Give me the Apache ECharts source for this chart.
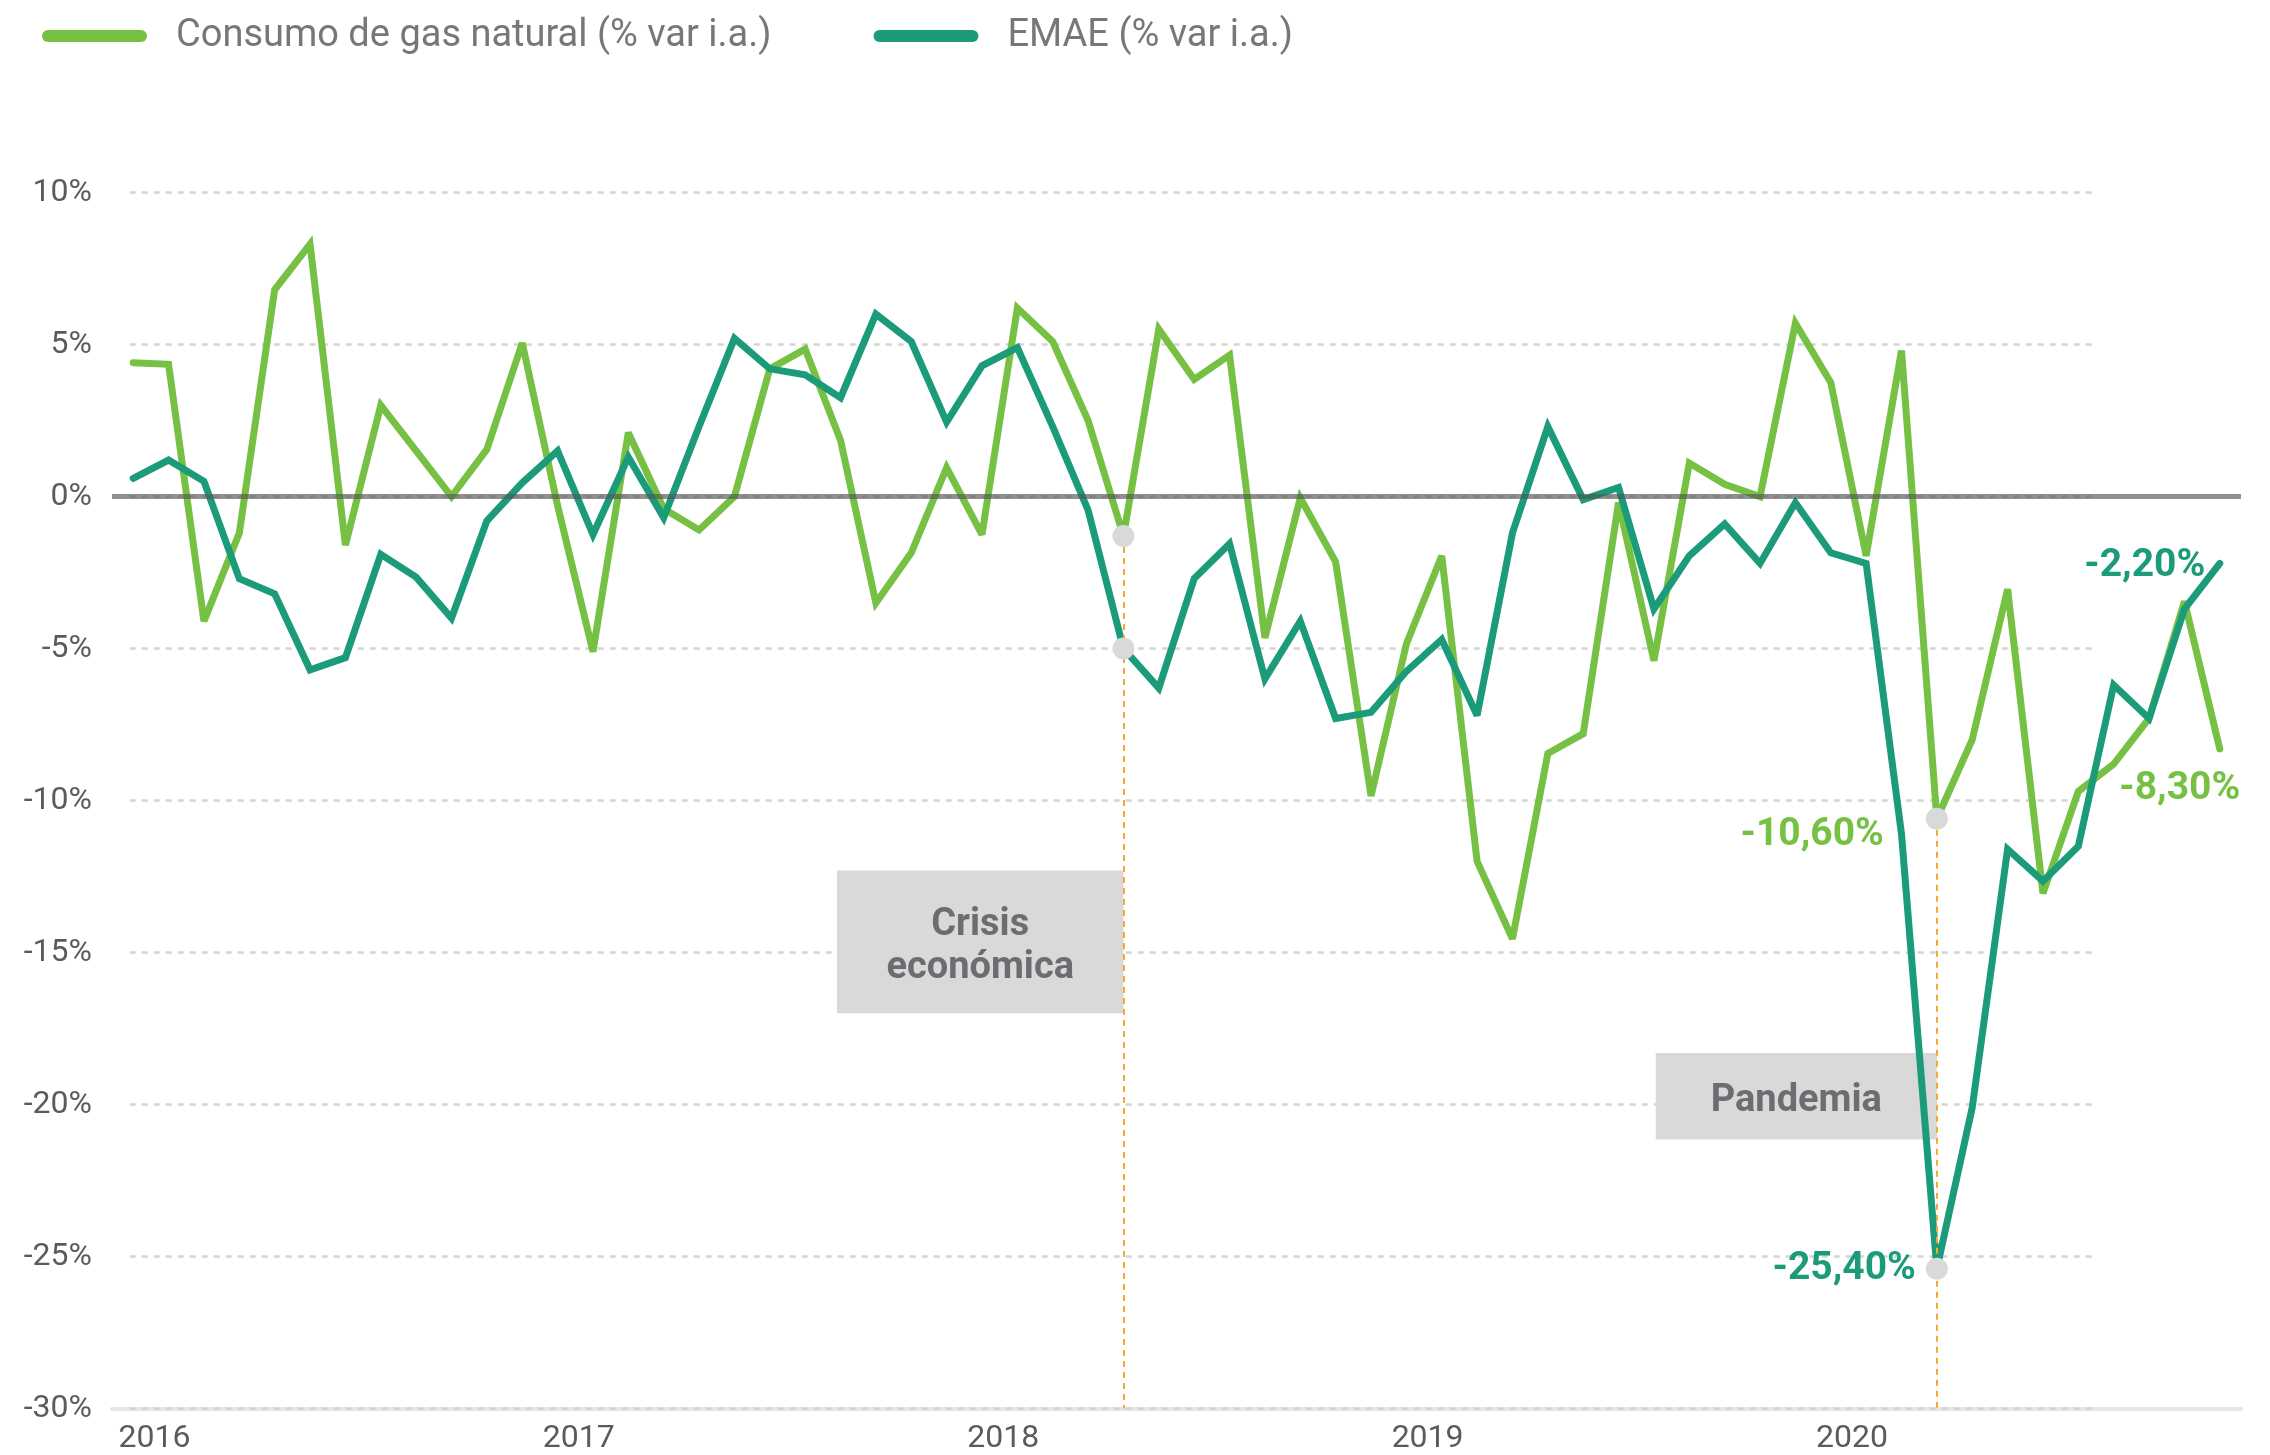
<!DOCTYPE html>
<html>
<head>
<meta charset="utf-8">
<title>Consumo de gas natural y EMAE</title>
<script src="https://cdn.jsdelivr.net/npm/echarts@6/dist/echarts.min.js"></script>
<style>
  html, body { margin: 0; padding: 0; background: #fff; }
  #chart { width: 2270px; height: 1455px; }
</style>
</head>
<body>
<div id="chart"></div>
<script>
  // datos mensuales, ene-2016 a dic-2020 (% var i.a.)
  var years = ['2016', '2017', '2018', '2019', '2020'];
  var gasData = [
    4.4, 4.35, -4.1, -1.2, 6.8, 8.3, -1.6, 3.0, 1.5, 0.0, 1.55, 5.05,
    -0.3, -5.1, 2.1, -0.4, -1.1, 0.0, 4.2, 4.85, 1.85, -3.5, -1.85, 0.95,
    -1.25, 6.2, 5.1, 2.5, -1.3, 5.5, 3.85, 4.65, -4.65, -0.05, -2.15, -9.85,
    -4.85, -1.95, -12.0, -14.55, -8.45, -7.8, -0.2, -5.4, 1.1, 0.4, 0.0, 5.7,
    3.75, -1.95, 4.8, -10.6, -8.0, -3.05, -13.05, -9.7, -8.8, -7.3, -3.45, -8.3
  ];
  var emaeData = [
    0.6, 1.2, 0.5, -2.7, -3.2, -5.7, -5.3, -1.9, -2.65, -4.0, -0.8, 0.45,
    1.5, -1.25, 1.3, -0.7, 2.3, 5.2, 4.2, 4.0, 3.25, 6.0, 5.1, 2.45,
    4.3, 4.9, 2.3, -0.45, -5.0, -6.3, -2.7, -1.55, -6.0, -4.1, -7.3, -7.1,
    -5.75, -4.7, -7.2, -1.2, 2.3, -0.1, 0.3, -3.7, -1.95, -0.9, -2.2, -0.2,
    -1.85, -2.2, -11.1, -25.4, -20.1, -11.6, -12.65, -11.5, -6.2, -7.3, -3.7, -2.2
  ];
  var yTicks = [10, 5, 0, -5, -10, -15, -20, -25, -30];
  var gasName = 'Consumo de gas natural (% var i.a.)';
  var emaeName = 'EMAE (% var i.a.)';

  var crisisIdx = 28;    // may-2018
  var pandemiaIdx = 51;  // abr-2020
  var lastIdx = gasData.length - 1;

  var FONT = "Roboto, 'DejaVu Sans Condensed', sans-serif";
  var GAS = '#76c044';
  var EMAE = '#1b9b7a';
  var yMin = Math.min.apply(null, yTicks);
  var yMax = Math.max.apply(null, yTicks);

  function pct(v) {
    return v.toFixed(2).replace('.', ',') + '%';
  }
  function pairs(arr) {
    return arr.map(function (v, i) { return [i, v]; });
  }

  var chart = echarts.init(document.getElementById('chart'));

  var option = {
    animation: false,
    grid: { left: 112, right: 29, top: 192.5, bottom: 46.4 },
    legend: {
      data: [gasName, emaeName],
      left: 42,
      top: 17,
      padding: 0,
      itemWidth: 105,
      itemHeight: 12,
      itemGap: 102,
      icon: 'path://M6,0H99A6,6 0 0 1 99,12H6A6,6 0 0 1 6,0Z',
      itemStyle: { borderWidth: 0 },
      selectedMode: false,
      textStyle: { fontSize: 38, color: '#777777', fontFamily: FONT, padding: [0, 0, 0, 24] }
    },
    xAxis: {
      type: 'value',
      min: -0.6,
      max: 59.6,
      axisLine: { show: true, onZero: false, lineStyle: { color: '#e6e6e6', width: 4 } },
      axisTick: { show: false },
      splitLine: { show: false },
      axisLabel: {
        customValues: years.map(function (y, k) { return k * 12 + 0.6; }),
        formatter: function (v) { return years[Math.round((v - 0.6) / 12)]; },
        fontSize: 32,
        color: '#5b5b5b',
        fontFamily: FONT,
        margin: 14
      }
    },
    yAxis: {
      type: 'value',
      min: yMin,
      max: yMax,
      interval: 5,
      axisLine: { show: false },
      axisTick: { show: false },
      splitLine: { show: false },
      axisLabel: { formatter: '{value}%', fontSize: 32, color: '#5b5b5b', fontFamily: FONT, margin: 20 }
    },
    series: [
      {
        // lineas de grilla punteadas
        name: '_grilla',
        type: 'line',
        data: [],
        silent: true,
        markLine: {
          z: 1,
          silent: true,
          symbol: ['none', 'none'],
          label: { show: false },
          lineStyle: { color: '#d4d4d4', width: 2.5, type: [6, 6] },
          data: yTicks.map(function (t) {
            return [{ coord: [-0.1, t] }, { coord: [55.4, t] }];
          })
        }
      },
      {
        name: gasName,
        type: 'line',
        z: 3,
        data: pairs(gasData),
        symbol: 'none',
        silent: true,
        emphasis: { disabled: true },
        itemStyle: { color: GAS },
        lineStyle: { color: GAS, width: 7, join: 'miter', miterLimit: 3, cap: 'round' },
        markArea: {
          z: 2,
          silent: true,
          itemStyle: { color: '#d9d9d9' },
          label: {
            show: true, position: 'inside', offset: [0, 5], color: '#6d6c71', fontFamily: FONT,
            fontWeight: 'bold', fontSize: 38, lineHeight: 43
          },
          data: [
            [{ name: 'Crisis\neconómica', coord: [19.9, -12.3] }, { coord: [crisisIdx, -17.0] }],
            [{ name: 'Pandemia', coord: [43.05, -18.3] }, { coord: [pandemiaIdx, -21.15] }]
          ]
        },
        markLine: {
          z: 4,
          silent: true,
          symbol: ['none', 'none'],
          label: { show: false },
          lineStyle: { color: '#f7a733', width: 2, type: [6, 5] },
          data: [
            [{ coord: [crisisIdx, gasData[crisisIdx]] }, { coord: [crisisIdx, yMin] }],
            [{ coord: [pandemiaIdx, gasData[pandemiaIdx]] }, { coord: [pandemiaIdx, yMin] }]
          ]
        },
        markPoint: {
          z: 6,
          silent: true,
          symbol: 'circle',
          symbolSize: 22,
          itemStyle: { color: '#d9d9d9' },
          label: { show: false, color: GAS, fontFamily: FONT, fontWeight: 'bold', fontSize: 39 },
          data: [
            { coord: [crisisIdx, gasData[crisisIdx]] },
            {
              coord: [pandemiaIdx, gasData[pandemiaIdx]],
              label: { show: true, position: 'left', distance: 42, offset: [0, 16], formatter: pct(gasData[pandemiaIdx]) }
            },
            {
              coord: [lastIdx, gasData[lastIdx]],
              symbolSize: 1,
              itemStyle: { color: 'rgba(0,0,0,0)' },
              label: { show: true, position: 'inside', offset: [-40, 40], formatter: pct(gasData[lastIdx]) }
            }
          ]
        }
      },
      {
        name: emaeName,
        type: 'line',
        z: 3,
        data: pairs(emaeData),
        symbol: 'none',
        silent: true,
        emphasis: { disabled: true },
        itemStyle: { color: EMAE },
        lineStyle: { color: EMAE, width: 7, join: 'miter', miterLimit: 3, cap: 'round' },
        markLine: {
          z: 5,
          silent: true,
          symbol: ['none', 'none'],
          label: { show: false },
          lineStyle: { color: 'rgba(85,85,85,0.65)', width: 5, type: 'solid' },
          data: [{ yAxis: 0 }]
        },
        markPoint: {
          z: 6,
          silent: true,
          symbol: 'circle',
          symbolSize: 22,
          itemStyle: { color: '#d9d9d9' },
          label: { show: false, color: EMAE, fontFamily: FONT, fontWeight: 'bold', fontSize: 39 },
          data: [
            { coord: [crisisIdx, emaeData[crisisIdx]] },
            {
              coord: [pandemiaIdx, emaeData[pandemiaIdx]],
              label: { show: true, position: 'left', distance: 10, offset: [0, 1], formatter: pct(emaeData[pandemiaIdx]) }
            },
            {
              coord: [lastIdx, emaeData[lastIdx]],
              symbolSize: 1,
              itemStyle: { color: 'rgba(0,0,0,0)' },
              label: { show: true, position: 'left', distance: 14, offset: [0, 3], formatter: pct(emaeData[lastIdx]) }
            }
          ]
        }
      }
    ]
  };

  chart.setOption(option);
</script>
</body>
</html>
